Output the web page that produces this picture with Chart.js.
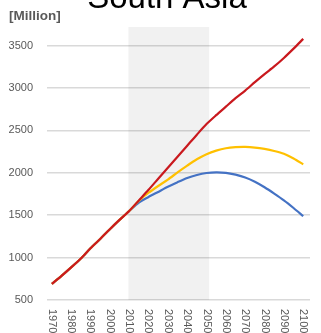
<!DOCTYPE html>
<html>
<head>
<meta charset="utf-8">
<script src="https://cdn.jsdelivr.net/npm/chart.js@4.4.0/dist/chart.umd.min.js"></script>
<style>
  html, body { margin: 0; padding: 0; background: #fff; overflow: hidden; }
  #chart-southasia { display: block; }
</style>
</head>
<body>
<canvas id="chart-southasia" width="321" height="333"></canvas>
<script>
// population, millions, 5-year steps
var years = [1970, 1975, 1980, 1985, 1990, 1995, 2000, 2005, 2010, 2015, 2020, 2025, 2030, 2035,
             2040, 2045, 2050, 2055, 2060, 2065, 2070, 2075, 2080, 2085, 2090, 2095, 2100];
var pastValues = [690, 785, 885, 990, 1110, 1220, 1335, 1445, 1550];
var highVariant = pastValues.concat([1675, 1800, 1930, 2060, 2190, 2320, 2450, 2575, 2680, 2780,
                                     2880, 2970, 3070, 3165, 3255, 3355, 3465, 3580]);
var mediumVariant = pastValues.concat([1670, 1765, 1845, 1920, 2005, 2085, 2160, 2220, 2262, 2290,
                                       2302, 2305, 2298, 2282, 2258, 2225, 2170, 2100]);
var lowVariant = pastValues.concat([1650, 1715, 1775, 1835, 1890, 1940, 1975, 1998, 2006, 2000,
                                    1978, 1945, 1895, 1830, 1755, 1675, 1585, 1490]);

var yearLabels = ['1970', '1980', '1990', '2000', '2010', '2020', '2030', '2040', '2050',
                  '2060', '2070', '2080', '2090', '2100'];
var yTicks = [500, 1000, 1500, 2000, 2500, 3000, 3500];
var shadeYears = [2009.5, 2051.5];
var shadeTop = 3720;

function toPoints(vals) {
    return vals.map(function (v, i) { return { x: years[i], y: v }; });
}

var textGray = '#595959';

// title, unit label and rotated year labels
var chartText = {
    id: 'chartText',
    afterDraw: function (chart) {
        var ctx = chart.ctx;
        var xs = chart.scales.x;
        var area = chart.chartArea;
        ctx.save();
        ctx.fillStyle = '#000';
        ctx.font = '33px "Liberation Sans", Arial, sans-serif';
        ctx.textAlign = 'center';
        ctx.textBaseline = 'alphabetic';
        ctx.fillText('South Asia', 167, 8);

        ctx.fillStyle = textGray;
        ctx.font = 'bold 13.5px "Liberation Sans", Arial, sans-serif';
        ctx.textAlign = 'left';
        ctx.textBaseline = 'middle';
        ctx.fillText('[Million]', 9, 16);

        ctx.font = '11px "Liberation Sans", Arial, sans-serif';
        yearLabels.forEach(function (lbl) {
            var px = xs.getPixelForValue(Number(lbl));
            ctx.save();
            ctx.translate(px, area.bottom + 9);
            ctx.rotate(Math.PI / 2);
            ctx.textAlign = 'left';
            ctx.textBaseline = 'middle';
            ctx.fillText(lbl, 0, 0);
            ctx.restore();
        });
        ctx.restore();
    }
};

var line = { borderWidth: 2.2, pointRadius: 0, tension: 0.25, fill: false };

var ctx = document.getElementById('chart-southasia').getContext('2d');
// first dataset is painted last, so high sits on top and the band underneath
var chart1 = new Chart(ctx, {
    type: 'line',
    data: {
        datasets: [
            Object.assign({ label: 'High', data: toPoints(highVariant), borderColor: '#C9191E' }, line),
            Object.assign({ label: 'Medium', data: toPoints(mediumVariant), borderColor: '#FFC000' }, line),
            Object.assign({ label: 'Low', data: toPoints(lowVariant), borderColor: '#4472C4' }, line),
            {
                label: 'shade',
                data: [{ x: shadeYears[0], y: shadeTop }, { x: shadeYears[1], y: shadeTop }],
                borderWidth: 0,
                pointRadius: 0,
                fill: 'start',
                backgroundColor: 'rgba(0, 0, 0, 0.055)'
            }
        ]
    },
    options: {
        responsive: false,
        animation: false,
        layout: { padding: { left: 8, right: 11, top: 27, bottom: 33 } },
        plugins: {
            legend: { display: false },
            tooltip: { enabled: false }
        },
        scales: {
            x: {
                type: 'linear',
                display: false,
                min: 1967.5,
                max: 2103.5
            },
            y: {
                min: 500,
                max: shadeTop,
                border: { display: false },
                grid: { color: '#d9d9d9', lineWidth: 1.5, drawTicks: false },
                afterBuildTicks: function (scale) {
                    scale.ticks = yTicks.map(function (v) { return { value: v }; });
                },
                afterFit: function (scale) { scale.width = 39; },
                ticks: {
                    padding: 14,
                    color: textGray,
                    font: { family: '"Liberation Sans", Arial, sans-serif', size: 11 },
                    callback: function (v) { return String(v); }
                }
            }
        }
    },
    plugins: [chartText]
});
</script>
</body>
</html>
